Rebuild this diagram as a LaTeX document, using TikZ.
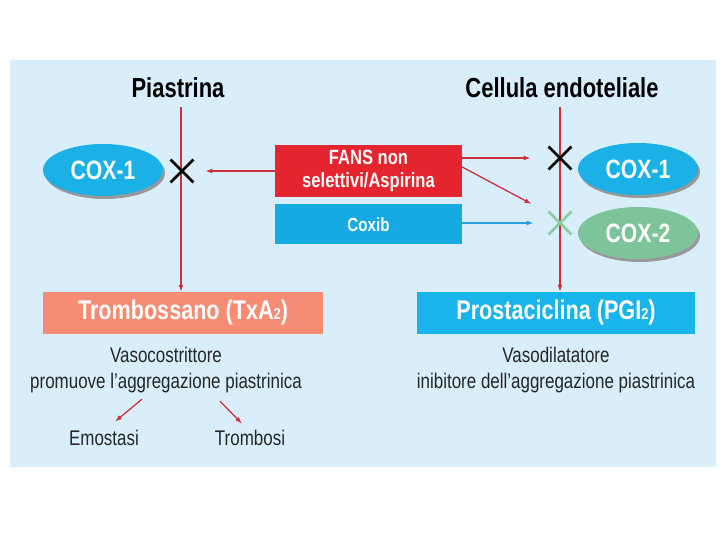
\documentclass[tikz,border=0pt]{standalone}
\usepackage{fontspec}
\setmainfont{Liberation Sans}[FakeStretch=0.8]
\usetikzlibrary{positioning,arrows.meta,shapes.geometric,shapes.misc,shadows}
\definecolor{panelbg}{RGB}{216,238,250}
\definecolor{coxblue}{RGB}{27,177,230}
\definecolor{coxgreen}{RGB}{125,196,154}
\definecolor{xgreen}{RGB}{140,205,160}
\definecolor{fansred}{RGB}{228,36,46}
\definecolor{coxibblue}{RGB}{22,170,226}
\definecolor{txsalmon}{RGB}{245,140,115}
\definecolor{pgiblue}{RGB}{25,180,235}
\definecolor{linered}{RGB}{205,48,58}
\definecolor{lineblue}{RGB}{40,160,220}

\begin{document}
\begin{tikzpicture}[x=1pt, y=-1pt, >={Latex[length=7pt,width=5pt]},
  title/.style={font=\fontsize{27.5}{29}\selectfont\bfseries},
  enzyme/.style={ellipse, minimum width=120pt, minimum height=52pt, inner sep=0pt, text=white,
    font=\fontsize{26.5}{26.5}\selectfont\bfseries,
    drop shadow={shadow xshift=2pt, shadow yshift=-3pt, fill=black!40, opacity=1}},
  drug/.style={minimum width=187pt, inner sep=0pt, text=white, align=center},
  product/.style={minimum height=42pt, inner sep=0pt, text=white, font=\fontsize{27}{27}\selectfont\bfseries},
  effect/.style={align=center, text=black!85, font=\fontsize{21.2}{25.5}\selectfont},
  xmark/.style={cross out, draw=black, line width=2.8pt, minimum size=20pt, inner sep=0pt},
  redline/.style={draw=linered, line width=1.3pt},
  blueline/.style={draw=lineblue, line width=1.3pt}]
\useasboundingbox (0,0) rectangle (720,540);
\fill[panelbg] (10,60) rectangle (716,467);
% cells
\node[title] (plt) at (178,88) {Piastrina};
\node[title] (endo) at (562,88) {Cellula endoteliale};
% drugs
\node[drug, fill=fansred, minimum height=52pt, font=\fontsize{20.7}{23}\selectfont\bfseries] (fans) at (368.5,171) {FANS non\\selettivi/Aspirina};
\node[drug, fill=coxibblue, minimum height=40pt, below=7pt of fans, font=\fontsize{19}{20}\selectfont\bfseries] (coxib) {Coxib};
% enzymes
\node[enzyme, fill=coxblue] (cox1l) at (103,170) {COX-1};
\node[enzyme, fill=coxblue] (cox1r) at (638,169) {COX-1};
\node[enzyme, fill=coxgreen] (cox2r) at (638,233) {COX-2};
% products
\node[product, fill=txsalmon, minimum width=280pt] (txa) at (183,313) {Trombossano (TxA{\fontsize{16}{16}\selectfont 2})};
\node[product, fill=pgiblue, minimum width=278pt] (pgi) at (556,313) {Prostaciclina (PGI{\fontsize{16}{16}\selectfont 2})};
\node[effect] (txeff) at (166,370) {Vasocostrittore\\promuove l’aggregazione piastrinica};
\node[effect] (pgieff) at (556,370) {Vasodilatatore\\inibitore dell’aggregazione piastrinica};
\node[effect] (emo) at (104,438) {Emostasi};
\node[effect] (tromb) at (250,438) {Trombosi};
% pathways
\coordinate (ltop) at (181,107);
\coordinate (rtop) at (560,107);
\draw[redline,->] (ltop) -- (ltop |- txa.north);
\draw[redline,->] (rtop) -- (rtop |- pgi.north);
\node[xmark] (xl) at (182,171) {};
\node[xmark] (xr1) at (560,158) {};
\node[xmark, draw=xgreen] (xr2) at (560,223) {};
\draw[redline,->] (fans.west) -- ([xshift=12pt]xl.east);
\draw[redline,->] (fans.east |- xr1) -- ([xshift=-18pt]xr1.west);
\draw[redline,->] ([yshift=4pt]fans.east) -- ([xshift=-17pt,yshift=19pt]xr2.west);
\draw[blueline,->] (coxib.east |- xr2) -- ([xshift=-15pt]xr2.west);
\draw[redline,->] ([xshift=-24pt,yshift=-3pt]txeff.south) -- ([xshift=11pt,yshift=5pt]emo.north);
\draw[redline,->] ([xshift=54pt,yshift=-5pt]txeff.south) -- ([xshift=-8pt,yshift=3pt]tromb.north);
\end{tikzpicture}
\end{document}
